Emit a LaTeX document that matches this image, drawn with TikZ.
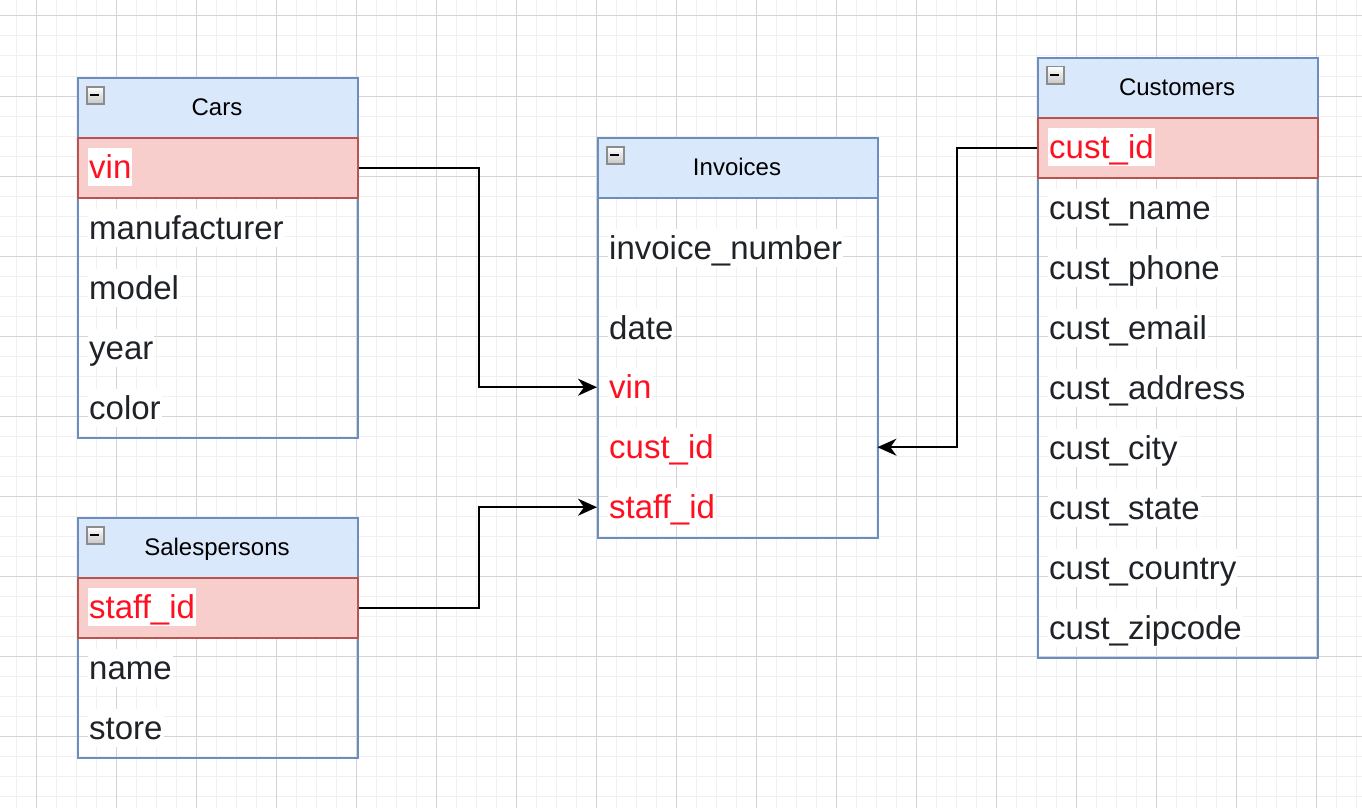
\documentclass[tikz,border=0pt]{standalone}
\usepackage{fontspec}
\setmainfont{Liberation Sans}
\usetikzlibrary{arrows.meta}
\definecolor{gridminor}{HTML}{F0F0F0}
\definecolor{gridmajor}{HTML}{D4D4D4}
\definecolor{hdrfill}{HTML}{DAE8FC}
\definecolor{hdrline}{HTML}{6C8EBF}
\definecolor{pkfill}{HTML}{F8CECC}
\definecolor{pkline}{HTML}{B85450}
\definecolor{fieldtxt}{HTML}{1F2328}
\definecolor{keytxt}{HTML}{FF1020}
\definecolor{iconline}{HTML}{8C8C8C}
\tikzset{
  tablebox/.style={draw=hdrline, line width=2pt, fill=none, minimum width=280pt, inner sep=0pt, anchor=north west},
  hdrbox/.style={draw=hdrline, line width=2pt, fill=hdrfill, minimum width=280pt, minimum height=60pt, inner sep=0pt, anchor=north west},
  pkbox/.style={draw=pkline, line width=2pt, fill=pkfill, minimum width=280pt, minimum height=60pt, inner sep=0pt, anchor=north west},
  rowbox/.style={draw=none, minimum width=280pt, minimum height=60pt, inner sep=0pt, anchor=north west},
  hdrtxt/.style={font=\fontsize{24pt}{28pt}\selectfont, text=black, anchor=base, inner sep=0pt},
  fieldtxt/.style={font=\fontsize{33pt}{39pt}\selectfont, text=fieldtxt, fill=white, anchor=base west, inner xsep=1pt, inner ysep=1pt, text height=29pt, text depth=7pt},
  keytxt/.style={fieldtxt, text=keytxt},
  icon/.style={draw=iconline, line width=1.5pt, top color=white, bottom color=black!22, minimum width=17pt, minimum height=17pt, inner sep=0pt, anchor=north west},
  link/.style={draw=black, line width=2pt, -{Stealth[length=19pt, width=17pt, inset=6pt]}}
}
\begin{document}
\begin{tikzpicture}[x=1pt, y=-1pt]
\useasboundingbox (0,0) rectangle (1362,808);
\fill[white] (0,0) rectangle (1362,808);
% grid
\foreach \gx in {16,36,...,1356} \draw[gridminor, line width=1pt] (\gx,0) -- (\gx,808);
\foreach \gy in {16,36,...,796} \draw[gridminor, line width=1pt] (0,\gy) -- (1362,\gy);
\foreach \gx in {36,116,...,1356} \draw[gridmajor, line width=1pt] (\gx,0) -- (\gx,808);
\foreach \gy in {16,96,...,796} \draw[gridmajor, line width=1pt] (0,\gy) -- (1362,\gy);

% ---------------- Cars ----------------
\node[tablebox, minimum height=360pt] (cars) at (77,77) {};
\node[hdrbox] (cars-h) at (77,77) {};
\node[hdrtxt] (cars-t) at (217,115) {Cars};
\node[icon] (cars-i) at (86,86) {};
\draw[black, line width=2pt] (cars-i.west) ++(4,0) -- ++(9,0);
\node[pkbox] (cars-vin) at (77,137) {};
\node[keytxt] (cars-vin-t) at (88,178) {vin};
\node[rowbox] (cars-man) at (77,197) {};
\node[fieldtxt] (cars-man-t) at (88,239) {manufacturer};
\node[fieldtxt] (cars-mod-t) at (88,299) {model};
\node[fieldtxt] (cars-yr-t) at (88,359) {year};
\node[fieldtxt] (cars-col-t) at (88,419) {color};

% ---------------- Salespersons ----------------
\node[tablebox, minimum height=240pt] (sales) at (77,517) {};
\node[hdrbox] (sales-h) at (77,517) {};
\node[hdrtxt] (sales-t) at (217,555) {Salespersons};
\node[icon] (sales-i) at (86,526) {};
\draw[black, line width=2pt] (sales-i.west) ++(4,0) -- ++(9,0);
\node[pkbox] (sales-id) at (77,577) {};
\node[keytxt] (sales-id-t) at (88,618) {staff\_id};
\node[fieldtxt] (sales-name-t) at (88,679) {name};
\node[fieldtxt] (sales-store-t) at (88,739) {store};

% ---------------- Invoices ----------------
\node[tablebox, minimum height=400pt] (inv) at (597,137) {};
\node[hdrbox] (inv-h) at (597,137) {};
\node[hdrtxt] (inv-t) at (737,175) {Invoices};
\node[icon] (inv-i) at (606,146) {};
\draw[black, line width=2pt] (inv-i.west) ++(4,0) -- ++(9,0);
\node[fieldtxt] (inv-num-t) at (608,259) {invoice\_number};
\node[fieldtxt] (inv-date-t) at (608,339) {date};
\node[rowbox] (inv-vin) at (597,357) {};
\node[keytxt] (inv-vin-t) at (608,398) {vin};
\node[rowbox] (inv-cust) at (597,417) {};
\node[keytxt] (inv-cust-t) at (608,458) {cust\_id};
\node[rowbox] (inv-staff) at (597,477) {};
\node[keytxt] (inv-staff-t) at (608,518) {staff\_id};

% ---------------- Customers ----------------
\node[tablebox, minimum height=600pt] (cust) at (1037,57) {};
\node[hdrbox] (cust-h) at (1037,57) {};
\node[hdrtxt] (cust-t) at (1177,95) {Customers};
\node[icon] (cust-i) at (1046,66) {};
\draw[black, line width=2pt] (cust-i.west) ++(4,0) -- ++(9,0);
\node[pkbox] (cust-id) at (1037,117) {};
\node[keytxt] (cust-id-t) at (1048,158) {cust\_id};
\node[fieldtxt] (cust-name-t) at (1048,219) {cust\_name};
\node[fieldtxt] (cust-phone-t) at (1048,279) {cust\_phone};
\node[fieldtxt] (cust-email-t) at (1048,339) {cust\_email};
\node[fieldtxt] (cust-addr-t) at (1048,399) {cust\_address};
\node[fieldtxt] (cust-city-t) at (1048,459) {cust\_city};
\node[fieldtxt] (cust-state-t) at (1048,519) {cust\_state};
\node[fieldtxt] (cust-country-t) at (1048,579) {cust\_country};
\node[fieldtxt] (cust-zip-t) at (1048,639) {cust\_zipcode};

% ---------------- Connectors ----------------
\draw[link] (cars-vin.east) -- ++(120,0) |- (inv-vin.west);
\draw[link] (sales-id.east) -- ++(120,0) |- (inv-staff.west);
\draw[link] (cust-id.west) -- ++(-80,0) |- (inv-cust.east);
\end{tikzpicture}
\end{document}
